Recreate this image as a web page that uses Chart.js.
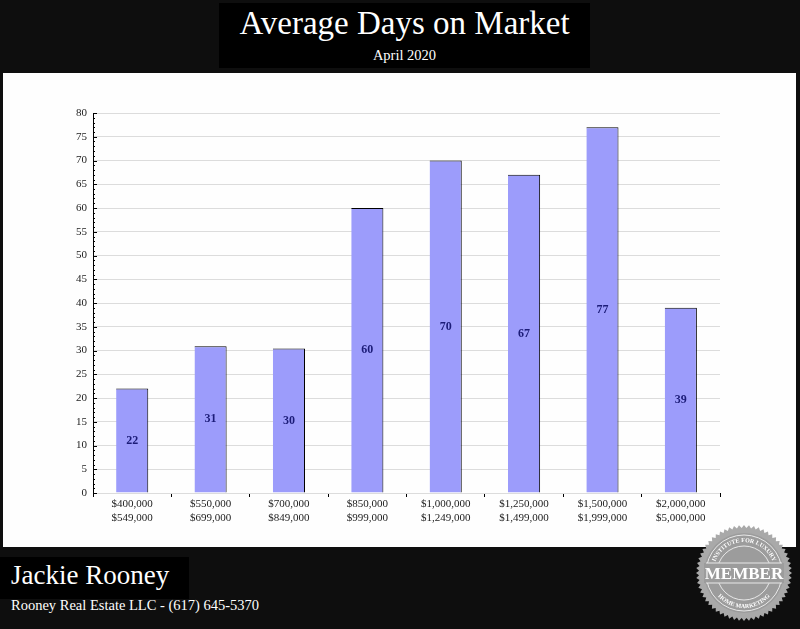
<!DOCTYPE html>
<html>
<head>
<meta charset="utf-8">
<script src="https://cdn.jsdelivr.net/npm/chart.js@4.4.0/dist/chart.umd.min.js"></script>
<style>
  html, body { margin: 0; padding: 0; }
  body { width: 800px; height: 629px; background: #0e0e0e; position: relative; overflow: hidden; font-family: 'Liberation Serif', serif; }
  .titlebox { position: absolute; left: 219px; top: 3px; width: 371px; height: 65px; background: #000; color: #fff; text-align: center; }
  .titlebox h1 { margin: 0; position: absolute; top: 2px; width: 100%; font-weight: normal; font-size: 33px; }
  .titlebox .sub { position: absolute; top: 44px; width: 100%; font-size: 14.5px; }
  .panel { position: absolute; left: 3px; top: 73px; width: 793px; height: 474px; background: #fefefe; }
  .namebox { position: absolute; left: 0; top: 557px; width: 189px; height: 42px; background: #000; }
  .name { position: absolute; left: 11px; top: 560px; color: #fff; font-size: 27px; }
  .company { position: absolute; left: 11px; top: 597px; color: #fff; font-size: 14.5px; }
  .badge { position: absolute; left: 694px; top: 523px; }
</style>
</head>
<body>
<div class="titlebox">
  <h1>Average Days on Market</h1>
  <div class="sub">April 2020</div>
</div>
<div class="panel"><canvas id="domChart" width="793" height="474"></canvas></div>
<div class="namebox"></div>
<div class="name">Jackie Rooney</div>
<div class="company">Rooney Real Estate LLC - (617) 645-5370</div>
<svg class="badge" width="100" height="100" viewBox="-50 -50 100 100">
  <defs>
    <path id="topArc" d="M -31 0 A 31 31 0 0 1 31 0" />
    <path id="botArc" d="M -35 0 A 35 35 0 0 0 35 0" />
  </defs>
  <polygon id="teeth" fill="#a9a9a9" />
  <circle r="40" fill="#9c9c9c" />
  <circle r="38" fill="none" stroke="#e8e8e8" stroke-width="1" />
  <circle r="27" fill="none" stroke="#e8e8e8" stroke-width="1" />
  <rect x="-40" y="-10" width="80" height="20" fill="#9c9c9c" />
  <line x1="-38" y1="-10" x2="38" y2="-10" stroke="#e8e8e8" />
  <line x1="-38" y1="10" x2="38" y2="10" stroke="#e8e8e8" />
  <text x="0" y="6" text-anchor="middle" fill="#fff" font-family="Liberation Serif" font-weight="bold" font-size="17">MEMBER</text>
  <text fill="#fff" font-family="Liberation Serif" font-weight="bold" font-size="6"><textPath href="#topArc" startOffset="50%" text-anchor="middle">INSTITUTE FOR LUXURY</textPath></text>
  <text fill="#fff" font-family="Liberation Serif" font-weight="bold" font-size="6"><textPath href="#botArc" startOffset="50%" text-anchor="middle">HOME MARKETING</textPath></text>
</svg>

<script>
// price ranges (two lines each)
const priceFrom = ['$400,000', '$550,000', '$700,000', '$850,000', '$1,000,000', '$1,250,000', '$1,500,000', '$2,000,000'];
const priceTo = ['$549,000', '$699,000', '$849,000', '$999,000', '$1,249,000', '$1,499,000', '$1,999,000', '$5,000,000'];
const avgDays = [22, 30.9, 30.4, 60, 70, 67, 77, 39];
const yTicks = [0, 5, 10, 15, 20, 25, 30, 35, 40, 45, 50, 55, 60, 65, 70, 75, 80];

// seal teeth
const pts = [];
for (let i = 0; i < 120; i++) {
  const a = i / 120 * Math.PI * 2;
  const r = i % 2 ? 45 : 48;
  pts.push((r * Math.cos(a)).toFixed(2) + ',' + (r * Math.sin(a)).toFixed(2));
}
document.getElementById('teeth').setAttribute('points', pts.join(' '));

Chart.defaults.font.family = "'Liberation Serif', serif";

// value label in the middle of each bar
const barLabels = {
  id: 'barLabels',
  afterDatasetsDraw(chart) {
    const c = chart.ctx;
    const meta = chart.getDatasetMeta(0);
    c.save();
    c.fillStyle = '#1c1c78';
    c.font = "bold 12px 'Liberation Serif', serif";
    c.textAlign = 'center';
    c.textBaseline = 'middle';
    meta.data.forEach((bar, i) => {
      c.fillText(Math.round(avgDays[i]), bar.x, (bar.y + bar.base) / 2);
    });
    c.restore();
  }
};

// small inward tick marks on the y axis
const yMinorTicks = {
  id: 'yMinorTicks',
  afterDraw(chart) {
    const y = chart.scales.y;
    const c = chart.ctx;
    const left = chart.chartArea.left;
    c.save();
    c.strokeStyle = '#000';
    c.lineWidth = 1;
    for (let v = 0; v <= 80; v++) {
      const py = Math.round(y.getPixelForValue(v)) + 0.5;
      const len = v % 5 === 0 ? 4 : 2;
      c.beginPath();
      c.moveTo(left, py);
      c.lineTo(left + len, py);
      c.stroke();
    }
    c.restore();
  }
};

new Chart(document.getElementById('domChart'), {
  type: 'bar',
  data: {
    labels: priceFrom.map((p, i) => [p, priceTo[i]]),
    datasets: [{
      label: 'Average Days on Market',
      data: avgDays,
      backgroundColor: '#9c9cfb',
      borderColor: '#000',
      borderWidth: { top: 1, left: 0, right: 1, bottom: 0 },
      borderSkipped: false,
      barPercentage: 0.41,
      categoryPercentage: 1
    }]
  },
  options: {
    responsive: false,
    devicePixelRatio: 1,
    animation: false,
    layout: { padding: { left: 0, top: 40, right: 76, bottom: 14 } },
    plugins: {
      legend: { display: false },
      tooltip: { enabled: false }
    },
    scales: {
      x: {
        afterFit: (s) => { s.height = 40; },
        border: { display: false },
        grid: { offset: true, drawOnChartArea: false, drawTicks: true, tickLength: 4, color: '#000' },
        ticks: { color: '#222', font: { size: 11 }, padding: 1, maxRotation: 0, autoSkip: false }
      },
      y: {
        min: 0,
        max: 80,
        afterFit: (s) => { s.width = 90; },
        afterBuildTicks: (s) => { s.ticks = yTicks.map(v => ({ value: v })); },
        border: { display: true, color: '#000', width: 1 },
        grid: { color: '#dcdcdc', drawTicks: false },
        ticks: { color: '#222', font: { size: 11 }, padding: 6 }
      }
    }
  },
  plugins: [barLabels, yMinorTicks]
});
</script>
</body>
</html>
